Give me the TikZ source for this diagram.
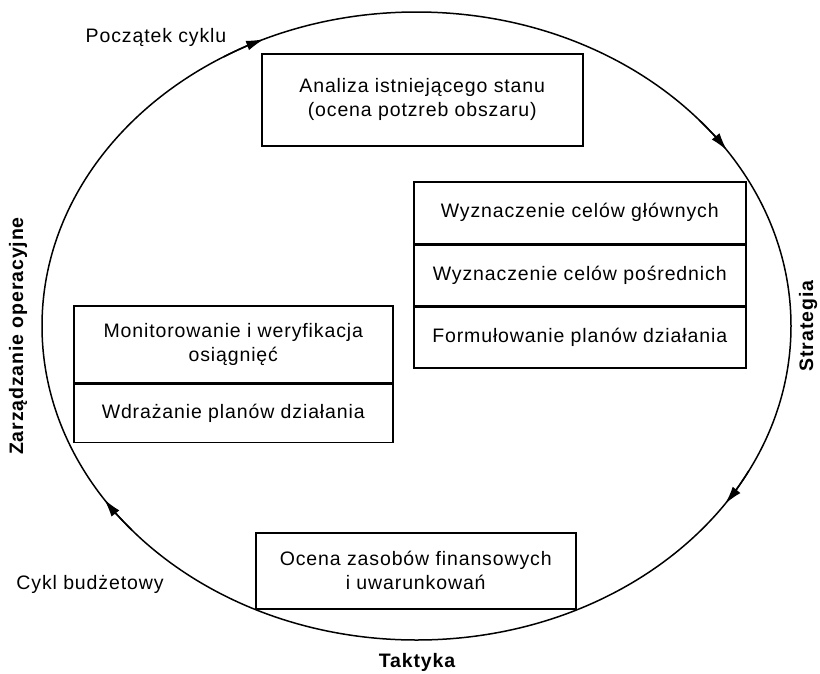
\documentclass[tikz,border=0pt]{standalone}
\usepackage{fontspec}
\setmainfont{Liberation Sans}[LetterSpace=4.5]
\usetikzlibrary{arrows.meta,calc}
\begin{document}
\begin{tikzpicture}[x=1pt,y=-1pt,
  box/.style={draw,line width=1.5pt,fill=white,inner sep=0pt,align=center,anchor=north west,font=\fontsize{19.5}{24}\selectfont},
  lbl/.style={font=\fontsize{19.5}{24}\selectfont,inner sep=0pt},
  blbl/.style={font=\fontsize{19.5}{24}\selectfont\bfseries,inner sep=0pt},
  ring/.style={line width=1.5pt},
  tip/.style={line width=1.5pt,-{Latex[length=18pt,width=10pt]}}]
\useasboundingbox (0,0) rectangle (820,673);
\coordinate (C) at (416.5,326);
\draw[ring] (C) ellipse [x radius=374.5, y radius=314];
\foreach \a in {-114,-34,34.5,146.5}{
  \pgfmathsetmacro{\b}{\a-7}
  \draw[tip] ($(C)+(\b:374.5 and 314)$) arc[start angle=\b,end angle=\a,x radius=374.5,y radius=314];
}
\node[box,minimum width=321,minimum height=92] (analiza) at (261,53) {Analiza istniejącego stanu\\(ocena potzreb obszaru)};
\node[box,minimum width=332,minimum height=62] (r1) at (413,181) {Wyznaczenie celów głównych};
\node[box,minimum width=332,minimum height=60] (r2) at (r1.south west) {Wyznaczenie celów pośrednich};
\node[box,minimum width=332,minimum height=61] (r3) at (r2.south west) {Formułowanie planów działania};
\node[box,minimum width=319,minimum height=77] (l1) at (73,305) {Monitorowanie i weryfikacja\\osiągnięć};
\node[box,minimum width=319,minimum height=58] (l2) at (l1.south west) {Wdrażanie planów działania};
\node[box,minimum width=320,minimum height=76] (ocena) at (255,532) {Ocena zasobów finansowych\\i uwarunkowań};
\node[lbl,anchor=base] (start) at (156,42) {Początek cyklu};
\node[lbl,anchor=base] (budzet) at (90,589) {Cykl budżetowy};
\node[blbl,anchor=base] (taktyka) at (417,667) {Taktyka};
\node[blbl,rotate=90] (strategia) at (808,326) {Strategia};
\node[blbl,rotate=90] (zarz) at (18,336) {Zarządzanie operacyjne};
\end{tikzpicture}
\end{document}
